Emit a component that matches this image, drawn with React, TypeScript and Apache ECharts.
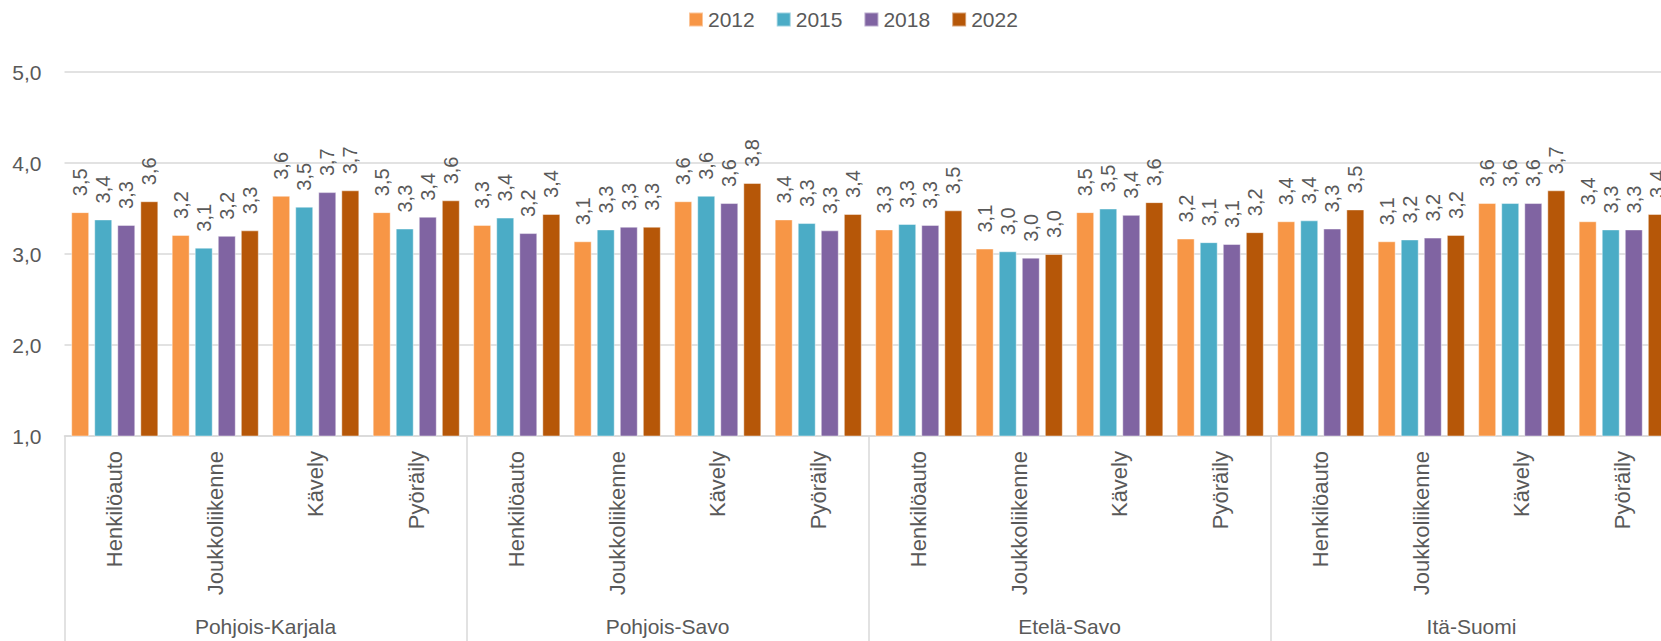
import React, { useEffect, useRef } from "react";
import * as echarts from "echarts";

const regions = ["Pohjois-Karjala", "Pohjois-Savo", "Etelä-Savo", "Itä-Suomi"];
const modes = ["Henkilöauto", "Joukkoliikenne", "Kävely", "Pyöräily"];
const years = ["2012", "2015", "2018", "2022"];
const colors = ["#F79646", "#4BACC6", "#8064A2", "#B65708"];

// values per region: Henkilöauto, Joukkoliikenne, Kävely, Pyöräily
const v2012 = [3.46, 3.21, 3.64, 3.46, 3.32, 3.14, 3.58, 3.38, 3.27, 3.06, 3.46, 3.17, 3.36, 3.14, 3.56, 3.36];
const v2015 = [3.38, 3.07, 3.52, 3.28, 3.40, 3.27, 3.64, 3.34, 3.33, 3.03, 3.50, 3.13, 3.37, 3.16, 3.56, 3.27];
const v2018 = [3.32, 3.20, 3.68, 3.41, 3.23, 3.30, 3.56, 3.26, 3.32, 2.96, 3.43, 3.11, 3.28, 3.18, 3.56, 3.27];
const v2022 = [3.58, 3.26, 3.70, 3.59, 3.44, 3.30, 3.78, 3.44, 3.48, 3.00, 3.57, 3.24, 3.49, 3.21, 3.70, 3.44];
const seriesValues = [v2012, v2015, v2018, v2022];

const yMin = 1;
const yMax = 5;
const yInterval = 1;

const FONT = "'Liberation Sans', Arial, sans-serif";
const TEXT = "#595959";
const GRID = "#D9D9D9";

const fmt = (v: number) => v.toFixed(1).replace(".", ",");

export default function App() {
  const ref = useRef<HTMLDivElement>(null);
  useEffect(() => {
    if (!ref.current) return;
    const chart = echarts.init(ref.current, undefined, { renderer: "svg" });
    const categories: string[] = [];
    regions.forEach(() => modes.forEach((m) => categories.push(m)));
    chart.setOption({
      animation: false,
      textStyle: { fontFamily: FONT },
      legend: {
        data: years,
        left: 688,
        top: 9,
        padding: 0,
        itemWidth: 14,
        itemHeight: 14,
        itemGap: 21,
        icon: "rect",
        textStyle: { fontSize: 21, color: TEXT, fontFamily: FONT },
      },
      grid: {
        left: 64.5,
        top: 72,
        width: 1608,
        height: 364,
        containLabel: false,
        outerBoundsMode: "none",
      },
      xAxis: [
        {
          type: "category",
          data: categories,
          position: "bottom",
          axisLine: { show: true, lineStyle: { color: GRID, width: 1.5 } },
          axisTick: { show: false },
          axisLabel: {
            rotate: 90,
            interval: 0,
            margin: 15,
            fontSize: 22,
            color: TEXT,
            fontFamily: FONT,
          },
        },
        {
          type: "category",
          data: regions,
          position: "bottom",
          axisLine: { show: false },
          axisTick: {
            show: true,
            interval: 0,
            length: 210,
            lineStyle: { color: GRID, width: 1.5 },
          },
          axisLabel: {
            interval: 0,
            margin: 180,
            fontSize: 21,
            color: TEXT,
            fontFamily: FONT,
          },
        },
      ],
      yAxis: {
        type: "value",
        min: yMin,
        max: yMax,
        interval: yInterval,
        axisLine: { show: false },
        axisTick: { show: false },
        splitLine: { lineStyle: { color: GRID, width: 1.5 } },
        axisLabel: {
          formatter: (v: number) => fmt(v),
          fontSize: 21,
          color: TEXT,
          margin: 23,
          fontFamily: FONT,
        },
      },
      series: years.map((y, i) => ({
        name: y,
        type: "bar",
        xAxisIndex: 0,
        data: seriesValues[i],
        barWidth: 18,
        barGap: "28%",
        itemStyle: {
          color: colors[i],
          borderColor: "rgba(255,255,255,0.45)",
          borderWidth: 1,
        },
        label: {
          show: true,
          position: "top",
          rotate: 90,
          align: "left",
          verticalAlign: "middle",
          distance: 16,
          fontSize: 20,
          color: TEXT,
          fontFamily: FONT,
          formatter: (p: any) => fmt(p.value),
        },
      })),
    });
    return () => chart.dispose();
  }, []);
  return (
    <div
      style={{
        position: "absolute",
        left: 0,
        top: 0,
        width: 1661,
        height: 641,
        overflow: "hidden",
        background: "#fff",
      }}
    >
      <div ref={ref} style={{ width: 1700, height: 641 }} />
    </div>
  );
}
